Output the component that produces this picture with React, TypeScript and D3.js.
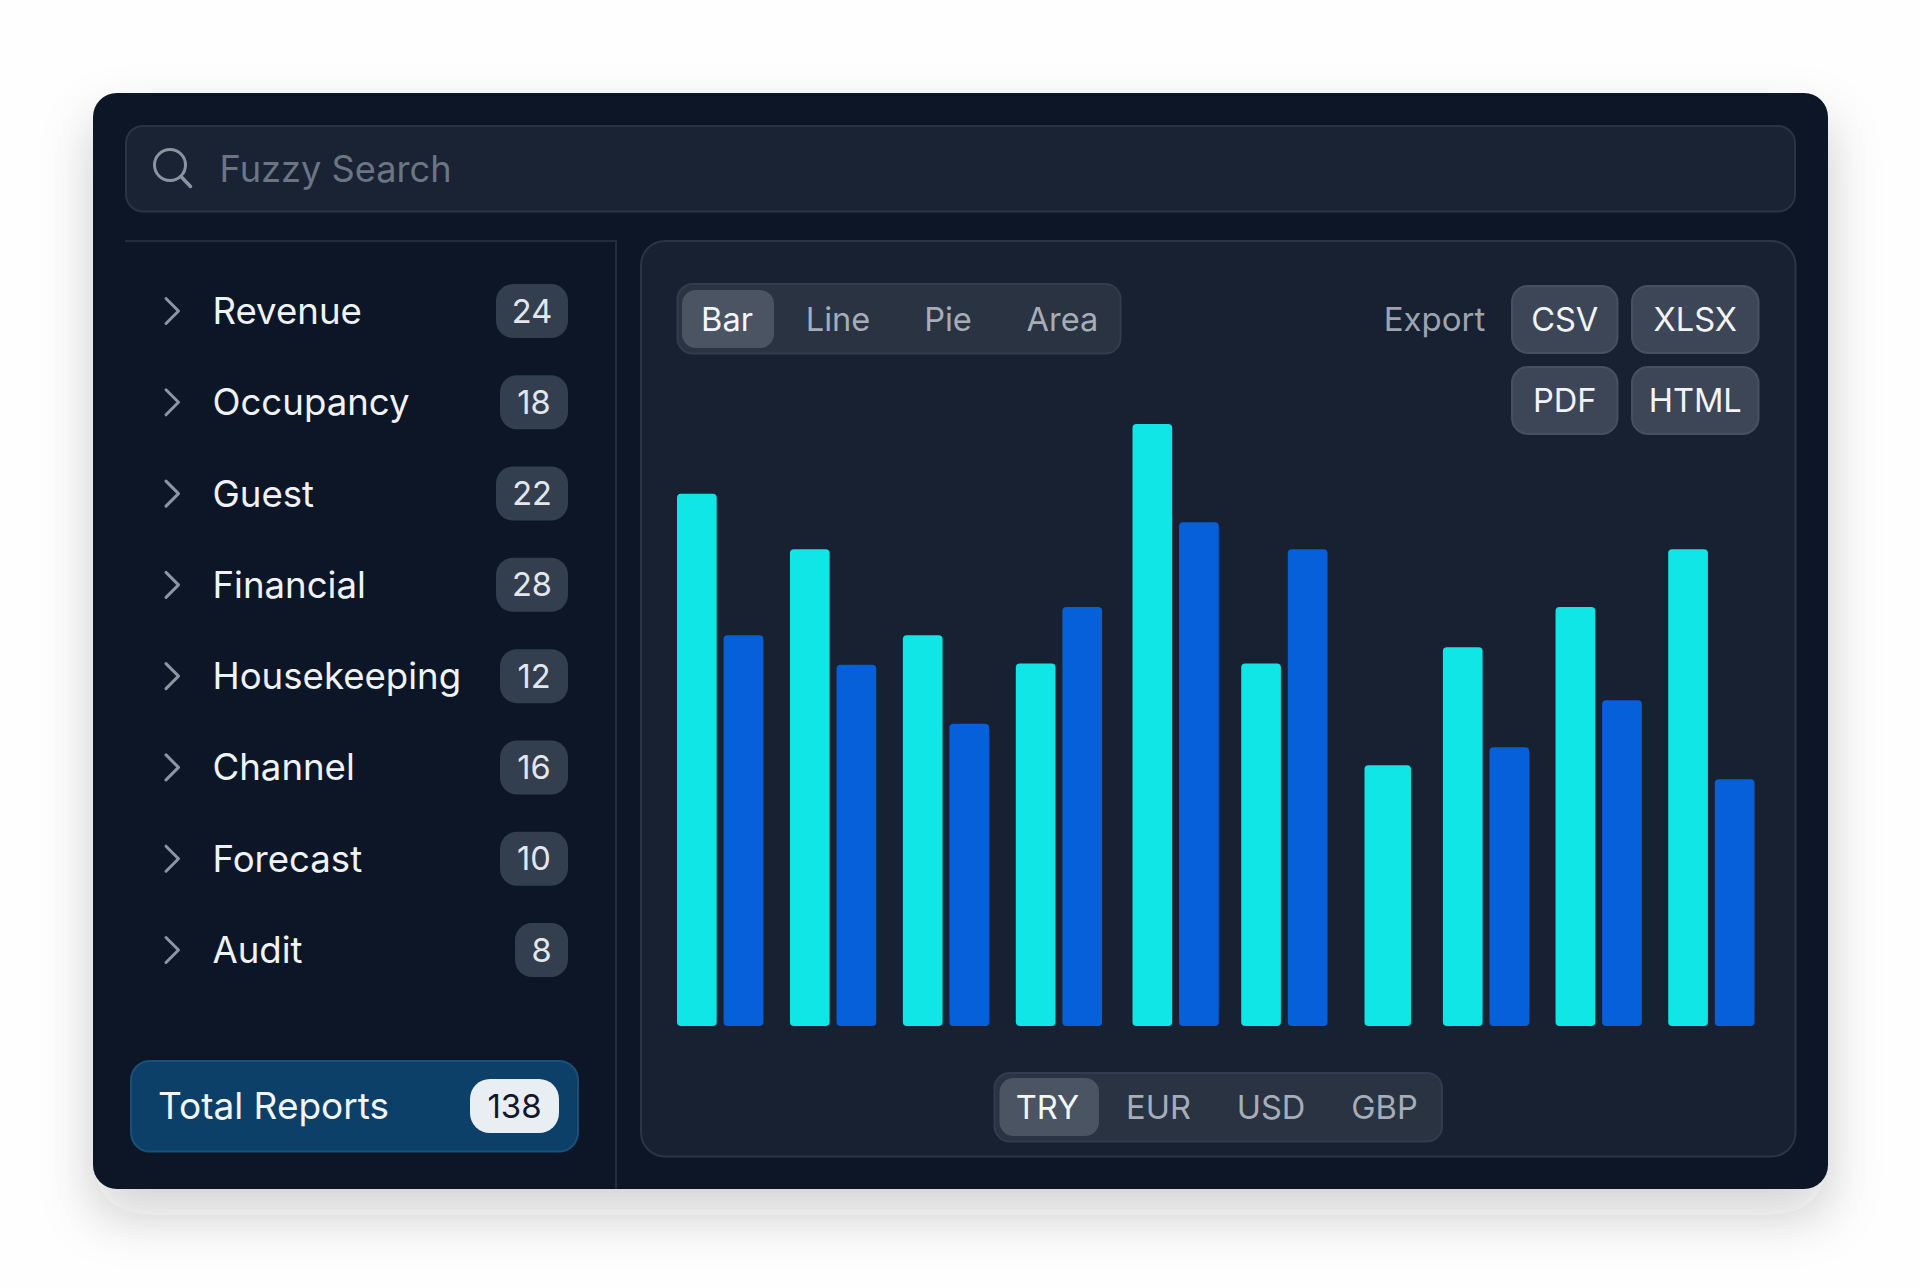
import React from "react";
import * as d3 from "d3";

const reportCategories = ["Revenue", "Occupancy", "Guest", "Financial", "Housekeeping", "Channel", "Forecast", "Audit"];
const reportCounts = [24, 18, 22, 28, 12, 16, 10, 8];
const totalLabel = "Total Reports";
const totalCount = 138;
const chartTabs = ["Bar", "Line", "Pie", "Area"];
const currencies = ["TRY", "EUR", "USD", "GBP"];
const exportsRow1 = ["CSV", "XLSX"];
const exportsRow2 = ["PDF", "HTML"];
const groupIndex = [0, 1, 2, 3, 4, 5, 6, 7, 8, 9];
const seriesCyan = [88.4, 79.2, 64.9, 60.2, 100, 60.2, 43.3, 62.9, 69.6, 79.2];
const seriesBlue: (number | null)[] = [64.9, 60, 50.2, 69.6, 83.7, 79.2, null, 46.3, 54.1, 41];

const FONT = "Inter, 'Noto Sans', sans-serif";
const CYAN = "#10e6e6";
const BLUE = "#0660da";

function Chevron({ y }: { y: number }) {
  const line = d3.line<[number, number]>();
  return <path d={line([[166, y - 12.5], [178.5, y], [166, y + 12.5]]) || ""} fill="none" stroke="#8c96a3" strokeWidth={3} strokeLinecap="round" strokeLinejoin="round" />;
}

function Segmented({ x, y, w, h, labels, centers, baseline, activeX, activeY, activeW, activeH }: any) {
  return (
    <g>
      <rect x={x} y={y} width={w} height={h} rx={15} fill="#293342" stroke="#323c4c" strokeWidth={2} />
      <rect x={activeX} y={activeY} width={activeW} height={activeH} rx={14} fill="#4a5463" />
      {labels.map((l: string, i: number) => (
        <text key={l} x={centers[i]} y={baseline} textAnchor="middle" fontSize={32.6} fill={i === 0 ? "#f4f6f8" : "#a6adb8"}>{l}</text>
      ))}
    </g>
  );
}

function Btn({ x, y, w, h, label }: any) {
  return (
    <g>
      <rect x={x} y={y} width={w} height={h} rx={16} fill="#3c4656" stroke="#465060" strokeWidth={2} />
      <text x={x + w / 2} y={y + h / 2 + 11.5} textAnchor="middle" fontSize={32.6} fill="#f2f4f7">{label}</text>
    </g>
  );
}

export default function App() {
  const xGroup = d3.scaleLinear()
    .domain([0, 3, 4, 5, 6, 7, 9])
    .range([677, 1015.8, 1132.5, 1241.2, 1364.5, 1442.9, 1668.2]);
  const yValue = d3.scaleLinear().domain([0, 100]).range([1026, 424]);
  const yRow = d3.scalePoint<string>().domain(reportCategories).range([311, 950]);
  const barW = 39.7;
  const blueOffset = 46.6;
  const soloW = 46.5;

  const badgeW = (n: number) => (String(n).length === 1 ? 53 : String(n)[0] === "1" ? 68 : 72);

  const barPath = (x: number, w: number, v: number) => {
    const top = yValue(v), bot = yValue(0), r = 4;
    const p = d3.path();
    p.moveTo(x, bot - r);
    p.lineTo(x, top + r);
    p.quadraticCurveTo(x, top, x + r, top);
    p.lineTo(x + w - r, top);
    p.quadraticCurveTo(x + w, top, x + w, top + r);
    p.lineTo(x + w, bot - r);
    p.quadraticCurveTo(x + w, bot, x + w - r, bot);
    p.lineTo(x + r, bot);
    p.quadraticCurveTo(x, bot, x, bot - r);
    p.closePath();
    return p.toString();
  };

  return (
    <svg width={1920} height={1288} viewBox="0 0 1920 1288" style={{ position: "absolute", left: 0, top: 0, fontFamily: FONT }}>
      <defs>
        <filter id="cardShadow" x="-15%" y="-15%" width="130%" height="135%">
          <feDropShadow dx={0} dy={26} stdDeviation={26} floodColor="#222" floodOpacity={0.2} />
        </filter>
      </defs>
      <rect width={1920} height={1288} fill="#fefefe" />
      <rect x={93} y={93} width={1735} height={1096} rx={24} fill="#0a1426" filter="url(#cardShadow)" />

      {/* search */}
      <rect x={126} y={126} width={1669} height={85.5} rx={17} fill="#192334" stroke="#293444" strokeWidth={2} />
      <circle cx={170} cy={165} r={15.5} fill="none" stroke="#8a94a1" strokeWidth={3} />
      <path d={d3.line()([[181, 176.5], [190.5, 186.5]]) || ""} stroke="#8a94a1" strokeWidth={3.5} strokeLinecap="round" />
      <text x={219.5} y={182} fontSize={36.2} fill="#6b7583">Fuzzy Search</text>

      {/* dividers */}
      <path d={d3.line()([[125, 241], [616, 241], [616, 1189]]) || ""} fill="none" stroke="#222c3c" strokeWidth={2} />

      {/* sidebar */}
      {reportCategories.map((c, i) => {
        const y = yRow(c) as number;
        const w = badgeW(reportCounts[i]);
        return (
          <g key={c}>
            <Chevron y={y} />
            <text x={212.5} y={y + 13} fontSize={36.6} fill="#eff3f7">{c}</text>
            <rect x={568 - w} y={y - 27} width={w} height={54} rx={17} fill="#333e4e" />
            <text x={568 - w / 2} y={y + 11.5} textAnchor="middle" fontSize={32.6} fill="#e3e7ec">{reportCounts[i]}</text>
          </g>
        );
      })}

      {/* total */}
      <rect x={131} y={1061} width={447} height={90.5} rx={19} fill="#0d4068" stroke="#19507a" strokeWidth={2} />
      <text x={158} y={1119} fontSize={37} fill="#f2f6f9">{totalLabel}</text>
      <rect x={470} y={1079} width={89} height={54} rx={20} fill="#e9eef3" />
      <text x={514.5} y={1117.5} textAnchor="middle" fontSize={33} fill="#10192c">{totalCount}</text>

      {/* panel */}
      <rect x={641} y={241} width={1154.5} height={915.5} rx={24} fill="#172132" stroke="#2b3545" strokeWidth={2} />

      <Segmented x={677.5} y={284} w={443} h={69.5} labels={chartTabs} centers={[727, 838, 948, 1062.5]} baseline={331}
        activeX={682} activeY={290} activeW={92} activeH={58} />

      <text x={1434.5} y={331} textAnchor="middle" fontSize={33} fill="#9da4b0">Export</text>
      {exportsRow1.map((l, i) => <Btn key={l} x={i === 0 ? 1512 : 1632} y={286} w={i === 0 ? 105.5 : 126.5} h={67} label={l} />)}
      {exportsRow2.map((l, i) => <Btn key={l} x={i === 0 ? 1512 : 1632} y={367} w={i === 0 ? 105.5 : 126.5} h={67} label={l} />)}

      {/* bars */}
      {groupIndex.map((g) => {
        const x = xGroup(g);
        const blue = seriesBlue[g];
        return (
          <g key={g}>
            <path d={barPath(x, blue === null ? soloW : barW, seriesCyan[g])} fill={CYAN} />
            {blue !== null && <path d={barPath(x + blueOffset, barW, blue)} fill={BLUE} />}
          </g>
        );
      })}

      <Segmented x={994.5} y={1073} w={447.5} h={68.5} labels={currencies} centers={[1047.5, 1158.5, 1271, 1384.5]} baseline={1119}
        activeX={999.5} activeY={1078} activeW={99.5} activeH={58} />
    </svg>
  );
}
